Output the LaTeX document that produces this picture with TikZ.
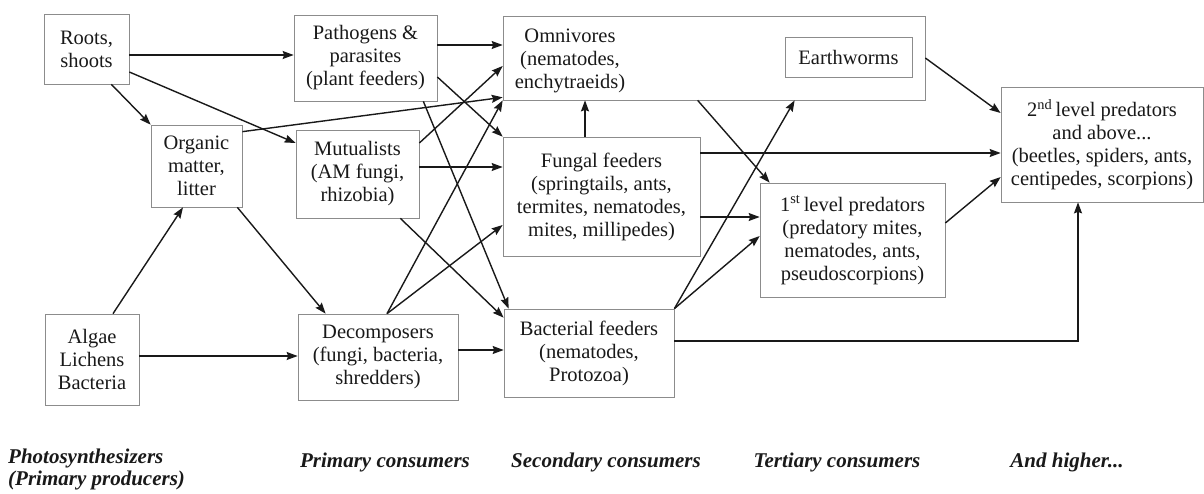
\documentclass[tikz,border=0pt]{standalone}
\usepackage{fontspec}
\setmainfont{Liberation Serif}
\usetikzlibrary{arrows.meta,calc}
\tikzset{
  box/.style={draw=black!45, line width=0.7pt, rectangle, inner sep=0pt, align=center,
    font=\fontsize{20.5}{23}\selectfont, text=black!90},
  txt/.style={inner sep=0pt, align=center, font=\fontsize{20.5}{23}\selectfont, text=black!90},
  lvl/.style={inner sep=0pt, font=\fontsize{21}{22}\selectfont\bfseries\itshape, text=black!90},
  arr/.style={line width=1.4pt, draw=black!90, -{Stealth[length=11pt,width=8pt,inset=1.5pt]}},
}
\begin{document}
\begin{tikzpicture}[x=1pt,y=-1pt]
\useasboundingbox (0,0) rectangle (1204,493);
\fill[white] (0,0) rectangle (1204,493);
% boxes
\node[box, minimum width=85pt, minimum height=70pt] (roots) at (86.5,49) {Roots,\\shoots};
\node[box, minimum width=91pt, minimum height=82pt] (organic) at (196.5,166) {Organic\\matter,\\litter};
\node[box, minimum width=94pt, minimum height=91pt] (algae) at (92,359.5) {Algae\\Lichens\\Bacteria};
\node[box, minimum width=143pt, minimum height=86pt] (path) at (365.5,58) {Pathogens \&\\parasites\\(plant feeders)};
\node[box, minimum width=123pt, minimum height=88pt] (mutual) at (357.5,174) {Mutualists\\(AM fungi,\\rhizobia)};
\node[box, minimum width=160pt, minimum height=86pt] (decomp) at (378,357) {Decomposers\\(fungi, bacteria,\\shredders)};
\node[box, minimum width=422pt, minimum height=84pt] (omni) at (714,58) {};
\node[txt] (omnitext) at (570,61) {Omnivores\\(nematodes,\\enchytraeids)};
\node[box, minimum width=127pt, minimum height=40pt] (worms) at (848.5,57) {Earthworms};
\node[box, minimum width=197pt, minimum height=119pt] (fungal) at (601.5,196.5) {Fungal feeders\\(springtails, ants,\\termites, nematodes,\\mites, millipedes)};
\node[box, minimum width=170pt, minimum height=88pt] (bact) at (589,353) {Bacterial feeders\\(nematodes,\\Protozoa)};
\node[box, minimum width=185pt, minimum height=114pt] (first) at (852.5,240) {1\textsuperscript{st}\,level predators\\(predatory mites,\\nematodes, ants,\\pseudoscorpions)};
\node[box, minimum width=202pt, minimum height=115pt] (second) at (1102,144.5) {2\textsuperscript{nd}\,level predators\\and above...\\(beetles, spiders, ants,\\centipedes, scorpions)};
% level labels
\node[lvl, anchor=west, align=left] (l1) at (8,469) {Photosynthesizers\\(Primary producers)};
\node[lvl] (l2) at (385,462) {Primary consumers};
\node[lvl] (l3) at (606,462) {Secondary consumers};
\node[lvl] (l4) at (837,462) {Tertiary consumers};
\node[lvl] (l5) at (1067,462) {And higher...};
% helper coordinate
\coordinate (wormin) at ([xshift=292pt]omni.south west);
% connectors
\draw[arr] (roots.east |- 0,55) -- (path.west |- 0,55);
\draw[arr] ([xshift=-18pt]roots.south east) -- (organic.north west);
\draw[arr] ([yshift=-23pt]roots.east) -- ([yshift=31pt]mutual.west);
\draw[arr] ([yshift=-7pt]organic.north east) -- ([yshift=3pt]omni.south west);
\draw[arr] ([xshift=21pt]algae.north) -- ([xshift=-13.5pt]organic.south);
\draw[arr] ([xshift=-5pt]organic.south east) -- ([xshift=28pt]decomp.north west);
\draw[arr] (algae.east |- 0,356) -- (decomp.west |- 0,356);
\draw[arr] (path.east |- 0,45) -- (omni.west |- 0,45);
\draw[arr] ([yshift=-19pt]path.east) -- (fungal.north west);
\draw[arr] ([xshift=-14pt]path.south east) -- ([xshift=5pt]bact.north west);
\draw[arr] ([yshift=31pt]mutual.east) -- ([yshift=-8pt]omni.west);
\draw[arr] (mutual.east |- 0,167) -- (fungal.west |- 0,167);
\draw[arr] ([xshift=-19pt]mutual.south east) -- ([yshift=-9pt]bact.north west);
\draw[arr] ([xshift=9pt]decomp.north) -- (omni.south west);
\draw[arr] ([xshift=9pt]decomp.north) -- ([yshift=-28.5pt]fungal.west);
\draw[arr] (decomp.east |- 0,350) -- (bact.west |- 0,350);
\draw[arr] (fungal.north -| 585,0) -- (omni.south -| 585,0);
\draw[arr] ([xshift=195pt]omni.south west) -- ([xshift=10pt]first.north west);
\draw[arr] (fungal.east |- 0,153) -- (second.west |- 0,153);
\draw[arr] (fungal.east |- 0,217) -- (first.west |- 0,217);
\draw[arr] (bact.north east) -- (wormin);
\draw[arr] (bact.north east) -- ([yshift=4pt]first.west);
\draw[arr] (omni.east) -- ([yshift=31.5pt]second.west);
\draw[arr] ([yshift=17pt]first.east) -- ([yshift=-32.5pt]second.west);
\draw[arr] (bact.east |- 0,341) -| (second.south -| 1078,0);
\end{tikzpicture}
\end{document}
